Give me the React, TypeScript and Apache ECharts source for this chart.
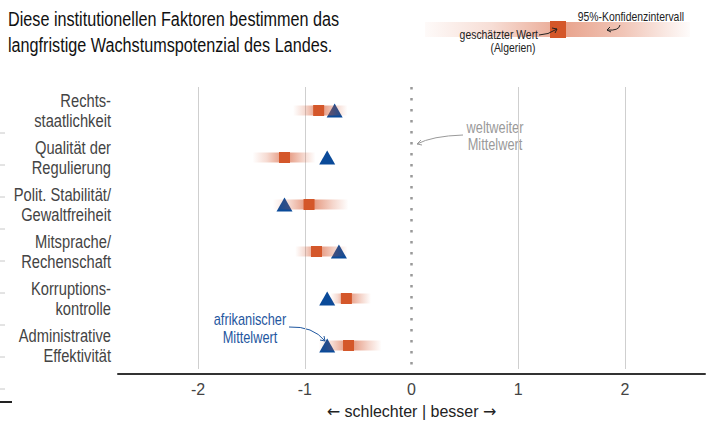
import React, { useEffect, useRef } from 'react';
import * as echarts from 'echarts';

const categories = [
  'Rechts-\nstaatlichkeit',
  'Qualität der\nRegulierung',
  'Polit. Stabilität/\nGewaltfreiheit',
  'Mitsprache/\nRechenschaft',
  'Korruptions-\nkontrolle',
  'Administrative\nEffektivität',
];
const estimates = [-0.87, -1.19, -0.96, -0.89, -0.61, -0.59];
const ciLow = [-1.11, -1.49, -1.3, -1.09, -0.76, -0.87];
const ciHigh = [-0.6, -0.9, -0.59, -0.6, -0.38, -0.28];
const africanMean = [-0.72, -0.79, -1.19, -0.68, -0.79, -0.79];
const gridTicks = [-2, -1, 1, 2];
const worldMean = 0;

const FONT = "'Liberation Sans', Arial, sans-serif";
const NARROW = 0.8;
const ORANGE = '#d4572a';
const BLUE = '#0a4a99';

function ciGradient(f: number) {
  const c = (a: number) => `rgba(214,90,50,${a})`;
  const stops = [
    { offset: 0, color: c(0) },
    { offset: Math.max(0.01, f * 0.45), color: c(0.22) },
    { offset: Math.max(0.02, f * 0.85), color: c(0.55) },
    { offset: f, color: c(0.75) },
    { offset: Math.min(0.98, f + (1 - f) * 0.2), color: c(0.55) },
    { offset: Math.min(0.99, f + (1 - f) * 0.6), color: c(0.25) },
    { offset: 1, color: c(0) },
  ];
  return new echarts.graphic.LinearGradient(0, 0, 1, 0, stops);
}

function narrowText(x: number, y: number, text: string, size: number, fill: string, align: string, extra: any = {}) {
  return {
    type: 'text',
    x,
    y,
    scaleX: NARROW,
    style: { text, font: `${size}px ${FONT}`, fill, align, verticalAlign: 'middle', ...extra },
  };
}

export default function App() {
  const ref = useRef<HTMLDivElement>(null);
  useEffect(() => {
    if (!ref.current) return;
    const chart = echarts.init(ref.current, null, { renderer: 'svg' });
    const ciData = categories.map((_, i) => [ciLow[i], ciHigh[i], estimates[i], i]);
    const leftTicks: any[] = [];
    for (let k = 0; k < 9; k++) {
      leftTicks.push({
        type: 'line',
        shape: { x1: 0, y1: 133 + 32 * k, x2: 5, y2: 133 + 32 * k },
        style: { stroke: '#c8c8c8', lineWidth: 1 },
      });
    }
    const option: any = {
      animation: false,
      textStyle: { fontFamily: FONT },
      grid: { left: 118, right: 6, top: 87, height: 288 },
      xAxis: {
        type: 'value',
        min: -2.75,
        max: 2.75,
        interval: 0.25,
        offset: 5,
        axisLine: { show: true, lineStyle: { color: '#333', width: 2 } },
        axisTick: { show: false },
        splitLine: { show: false },
        axisLabel: {
          fontFamily: FONT,
          fontSize: 16,
          color: '#444',
          margin: 7,
          formatter: (v: number) => (Math.abs(v - Math.round(v)) < 1e-9 && Math.abs(v) <= 2 ? String(Math.round(v)) : ''),
        },
        name: '{a|←} schlechter | besser {a|→}',
        nameLocation: 'middle',
        nameGap: 29,
        nameTextStyle: {
          fontFamily: FONT,
          fontSize: 16,
          color: '#222',
          rich: { a: { fontFamily: "'DejaVu Sans', sans-serif", fontSize: 16, color: '#222' } },
        },
      },
      yAxis: {
        type: 'category',
        inverse: true,
        data: categories,
        axisLine: { show: false },
        axisTick: { show: false },
        splitLine: { show: false },
        axisLabel: { show: false },
      },
      series: [
        {
          type: 'scatter',
          data: [],
          z: 0,
          silent: true,
          markLine: {
            z: 0,
            silent: true,
            symbol: ['none', 'none'],
            label: { show: false },
            emphasis: { disabled: true },
            data: [
              ...gridTicks.map((v) => ({ xAxis: v, lineStyle: { color: '#cfcfcf', width: 1, type: 'solid' } })),
              { xAxis: worldMean, lineStyle: { color: '#999', width: 2.5, type: [2.5, 8.5], cap: 'butt' } },
            ],
          },
        },
        {
          // category labels, drawn narrow
          type: 'custom',
          z: 1,
          silent: true,
          data: categories.map((_, i) => [-2.75, i]),
          encode: { x: 0, y: 1 },
          renderItem: (params: any, api: any) => {
            const idx = api.value(1);
            const p = api.coord([-2.75, idx]);
            return {
              type: 'text',
              x: p[0] - 7,
              y: p[1],
              scaleX: 0.84,
              style: {
                text: categories[idx],
                fontFamily: FONT,
                fontSize: 17.5,
                lineHeight: 21,
                fill: '#444',
                align: 'right',
                verticalAlign: 'middle',
              },
            };
          },
        },
        {
          type: 'scatter',
          z: 2,
          symbol: 'triangle',
          symbolSize: [16, 14],
          itemStyle: { color: BLUE, opacity: 1 },
          data: africanMean.map((v, i) => [v, i]),
        },
        {
          type: 'custom',
          z: 3,
          data: ciData,
          encode: { x: [0, 1], y: 3 },
          renderItem: (params: any, api: any) => {
            const lo = api.value(0);
            const hi = api.value(1);
            const est = api.value(2);
            const idx = api.value(3);
            const p0 = api.coord([lo, idx]);
            const p1 = api.coord([hi, idx]);
            const h = 10;
            const f = (est - lo) / (hi - lo);
            return {
              type: 'rect',
              shape: { x: p0[0], y: p0[1] - h / 2, width: p1[0] - p0[0], height: h },
              style: { fill: ciGradient(f) },
            };
          },
        },
        {
          type: 'scatter',
          z: 4,
          symbol: 'rect',
          symbolSize: 11,
          itemStyle: { color: ORANGE, opacity: 1 },
          data: estimates.map((v, i) => [v, i]),
        },
      ],
      graphic: [
        {
          type: 'text',
          x: 8,
          y: 6,
          scaleX: 0.81,
          style: {
            text: 'Diese institutionellen Faktoren bestimmen das\nlangfristige Wachstumspotenzial des Landes.',
            font: `20px ${FONT}`,
            lineHeight: 26,
            fill: '#111',
          },
        },
        // legend bar
        {
          type: 'rect',
          shape: { x: 425, y: 22, width: 265, height: 15 },
          style: {
            fill: new echarts.graphic.LinearGradient(0, 0, 1, 0, [
              { offset: 0, color: 'rgba(214,90,50,0.03)' },
              { offset: 0.25, color: 'rgba(214,90,50,0.2)' },
              { offset: 0.45, color: 'rgba(214,90,50,0.45)' },
              { offset: 0.53, color: 'rgba(214,90,50,0.55)' },
              { offset: 0.75, color: 'rgba(214,90,50,0.35)' },
              { offset: 0.9, color: 'rgba(214,90,50,0.15)' },
              { offset: 1, color: 'rgba(214,90,50,0.02)' },
            ]),
          },
        },
        {
          type: 'rect',
          shape: { x: 550, y: 21, width: 16, height: 17 },
          style: { fill: ORANGE },
        },
        narrowText(684, 16, '95%-Konfidenzintervall', 13, '#222', 'right'),
        narrowText(538, 34, 'geschätzter Wert', 13, '#222', 'right'),
        narrowText(513, 47, '(Algerien)', 13, '#222', 'center'),
        {
          type: 'bezierCurve',
          shape: { x1: 539, y1: 35, x2: 557, y2: 29, cpx1: 548, cpy1: 35 },
          style: { stroke: '#222', lineWidth: 1, fill: 'none' },
        },
        {
          type: 'polyline',
          shape: { points: [[552, 28], [557, 29], [555, 33]] },
          style: { stroke: '#222', lineWidth: 1, fill: 'none' },
        },
        {
          type: 'bezierCurve',
          shape: { x1: 620, y1: 25, x2: 607, y2: 30, cpx1: 619, cpy1: 31 },
          style: { stroke: '#222', lineWidth: 1, fill: 'none' },
        },
        {
          type: 'polyline',
          shape: { points: [[610, 27], [607, 30], [611, 32]] },
          style: { stroke: '#222', lineWidth: 1, fill: 'none' },
        },
        // weltweiter Mittelwert
        narrowText(495, 136, 'weltweiter\nMittelwert', 16, '#9a9a9a', 'center', { lineHeight: 17 }),
        {
          type: 'bezierCurve',
          shape: { x1: 463, y1: 135, x2: 417, y2: 144, cpx1: 432, cpy1: 136 },
          style: { stroke: '#9a9a9a', lineWidth: 1, fill: 'none' },
        },
        {
          type: 'polyline',
          shape: { points: [[421, 140], [417, 144], [422, 145]] },
          style: { stroke: '#9a9a9a', lineWidth: 1, fill: 'none' },
        },
        // afrikanischer Mittelwert
        narrowText(250, 328, 'afrikanischer\nMittelwert', 16, '#1f57a0', 'center', { lineHeight: 18 }),
        {
          type: 'bezierCurve',
          shape: { x1: 289, y1: 327, x2: 325, y2: 341, cpx1: 313, cpy1: 326 },
          style: { stroke: '#1f57a0', lineWidth: 1, fill: 'none' },
        },
        {
          type: 'polyline',
          shape: { points: [[320, 340], [325, 341], [324, 336]] },
          style: { stroke: '#1f57a0', lineWidth: 1, fill: 'none' },
        },
        ...leftTicks,
        {
          type: 'line',
          shape: { x1: 0, y1: 402, x2: 12, y2: 402 },
          style: { stroke: '#222', lineWidth: 2 },
        },
      ],
    };
    chart.setOption(option);
    return () => chart.dispose();
  }, []);
  return <div ref={ref} style={{ width: 711, height: 424, position: 'absolute', left: 0, top: 0 }} />;
}
